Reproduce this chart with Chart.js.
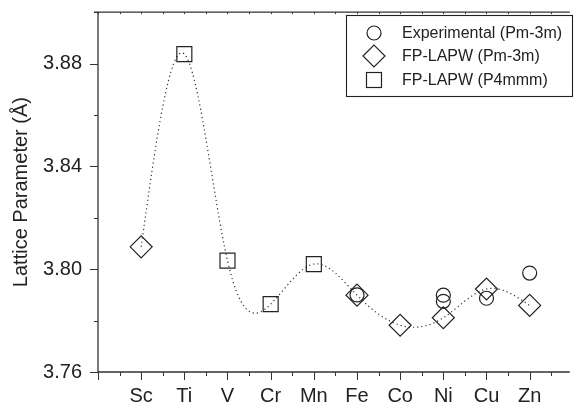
<!DOCTYPE html>
<html>
<head>
<meta charset="utf-8">
<script src="https://cdn.jsdelivr.net/npm/chart.js@4/dist/chart.umd.min.js"></script>
<style>
  html, body { margin: 0; padding: 0; background: #fff; }
  #wrap { width: 582px; height: 407px; position: relative; }
</style>
</head>
<body>
<div id="wrap"><canvas id="c" width="582" height="407"></canvas></div>
<script>
// ---- data ----
const categories = ['Sc', 'Ti', 'V', 'Cr', 'Mn', 'Fe', 'Co', 'Ni', 'Cu', 'Zn'];
const yTickValues = [3.76, 3.80, 3.84, 3.88];
const yMinorValues = [3.78, 3.82, 3.86, 3.90];

const expElements = ['Fe', 'Ni', 'Ni', 'Cu', 'Zn'];
const expValues = [3.7900, 3.7899, 3.7875, 3.7887, 3.7985];

const pm3mElements = ['Sc', 'Fe', 'Co', 'Ni', 'Cu', 'Zn'];
const pm3mValues = [3.8087, 3.7899, 3.7782, 3.7811, 3.7923, 3.7859];

const p4mmmElements = ['Ti', 'V', 'Cr', 'Mn'];
const p4mmmValues = [3.8837, 3.8033, 3.7864, 3.8020];

const curveElements = ['Sc', 'Ti', 'V', 'Cr', 'Mn', 'Fe', 'Co', 'Ni', 'Cu', 'Zn'];
const curveValues = [3.8087, 3.8837, 3.8033, 3.7864, 3.8020, 3.7899, 3.7782, 3.7811, 3.7923, 3.7859];

const seriesLabels = ['Experimental (Pm-3m)', 'FP-LAPW (Pm-3m)', 'FP-LAPW (P4mmm)'];

// ---- helpers ----
const pos = el => categories.indexOf(el) + 1;
const toPoints = (els, vals) => els.map((e, i) => ({ x: pos(e), y: vals[i] }));
const INK = '#222';
const FONT = "'Liberation Sans', Arial, Helvetica, sans-serif";

// natural cubic spline control points (smooth connecting line, like the original's spline connector)
const splinePlugin = {
  id: 'naturalSpline',
  beforeDatasetDraw(chart, args) {
    const ds = chart.data.datasets[args.index];
    if (!ds.naturalSpline) return;
    const meta = args.meta;
    const pts = meta.data;
    const n = pts.length;
    if (n < 3) return;
    const xs = pts.map(p => p.x), ys = pts.map(p => p.y);
    const h = [];
    for (let i = 0; i < n - 1; i++) h[i] = xs[i + 1] - xs[i];
    const M = new Array(n).fill(0);
    const a = [], b = [], c = [], d = [];
    for (let i = 1; i < n - 1; i++) {
      a[i] = h[i - 1]; b[i] = 2 * (h[i - 1] + h[i]); c[i] = h[i];
      d[i] = 6 * ((ys[i + 1] - ys[i]) / h[i] - (ys[i] - ys[i - 1]) / h[i - 1]);
    }
    // Thomas algorithm
    const cp = [], dp = [];
    for (let i = 1; i < n - 1; i++) {
      const den = b[i] - (i > 1 ? a[i] * cp[i - 1] : 0);
      cp[i] = c[i] / den;
      dp[i] = (d[i] - (i > 1 ? a[i] * dp[i - 1] : 0)) / den;
    }
    for (let i = n - 2; i >= 1; i--) {
      M[i] = dp[i] - (i < n - 2 ? cp[i] * M[i + 1] : 0);
    }
    const s = [];
    for (let i = 0; i < n - 1; i++) s[i] = (ys[i + 1] - ys[i]) / h[i] - h[i] * (2 * M[i] + M[i + 1]) / 6;
    s[n - 1] = (ys[n - 1] - ys[n - 2]) / h[n - 2] + h[n - 2] * (M[n - 2] + 2 * M[n - 1]) / 6;
    for (let i = 0; i < n; i++) {
      const hl = i > 0 ? h[i - 1] : 0, hr = i < n - 1 ? h[i] : 0;
      const p = pts[i];
      p.cp1x = xs[i] - hl / 3; p.cp1y = ys[i] - s[i] * hl / 3;
      p.cp2x = xs[i] + hr / 3; p.cp2y = ys[i] + s[i] * hr / 3;
    }
    meta.dataset._pointsUpdated = true;
  }
};

// axes frame and tick marks
const axesPlugin = {
  id: 'axesFrame',
  afterDraw(chart) {
    const { ctx, chartArea: ca, scales: { x, y } } = chart;
    ctx.save();
    ctx.strokeStyle = '#333';
    ctx.lineWidth = 1.3;
    ctx.beginPath();
    // left axis
    ctx.moveTo(ca.left, ca.top); ctx.lineTo(ca.left, ca.bottom);
    // bottom axis
    ctx.moveTo(ca.left, ca.bottom); ctx.lineTo(ca.right, ca.bottom);
    // top axis
    ctx.moveTo(ca.left - 4, ca.top); ctx.lineTo(ca.right, ca.top);
    ctx.stroke();
    ctx.lineWidth = 1;
    ctx.beginPath();
    yTickValues.forEach(v => { const py = Math.round(y.getPixelForValue(v)) + 0.5; ctx.moveTo(ca.left - 8, py); ctx.lineTo(ca.left, py); });
    yMinorValues.forEach(v => { const py = Math.round(y.getPixelForValue(v)) + 0.5; ctx.moveTo(ca.left - 4, py); ctx.lineTo(ca.left, py); });
    for (let v = 0; v <= categories.length; v++) {
      const px = Math.round(x.getPixelForValue(v)) + 0.5;
      ctx.moveTo(px, ca.bottom); ctx.lineTo(px, ca.bottom + 8);
      ctx.moveTo(px, ca.top); ctx.lineTo(px, ca.top + 2);
      const pm = Math.round(x.getPixelForValue(v + 0.5)) + 0.5;
      if (pm < ca.right) {
        ctx.moveTo(pm, ca.bottom); ctx.lineTo(pm, ca.bottom + 4);
        ctx.moveTo(pm, ca.top); ctx.lineTo(pm, ca.top + 2);
      }
    }
    ctx.stroke();

    // legend box
    const lx = 346.5, ly = 15.5, lw = 226, lh = 81;
    ctx.lineWidth = 1.1;
    ctx.strokeStyle = INK;
    ctx.strokeRect(lx, ly, lw, lh);
    const rows = [33, 56, 80];
    const mx = 374;
    ctx.lineWidth = 1.2;
    // circle
    ctx.beginPath(); ctx.arc(mx, rows[0], 7, 0, Math.PI * 2); ctx.stroke();
    // diamond
    ctx.beginPath();
    ctx.moveTo(mx - 11, rows[1]); ctx.lineTo(mx, rows[1] - 11); ctx.lineTo(mx + 11, rows[1]); ctx.lineTo(mx, rows[1] + 11); ctx.closePath(); ctx.stroke();
    // square
    ctx.strokeRect(mx - 7.5, rows[2] - 7.5, 15, 15);
    ctx.fillStyle = INK;
    ctx.font = '16px ' + FONT;
    ctx.textBaseline = 'middle';
    ctx.textAlign = 'left';
    seriesLabels.forEach((t, i) => ctx.fillText(t, 402, rows[i] + 1));
    ctx.restore();
  }
};

const markerCommon = { showLine: false, backgroundColor: 'rgba(0,0,0,0)', borderColor: INK, pointBorderWidth: 1.2 };

new Chart(document.getElementById('c'), {
  type: 'line',
  data: {
    datasets: [
      Object.assign({ label: seriesLabels[0], data: toPoints(expElements, expValues), pointStyle: 'circle', pointRadius: 7 }, markerCommon),
      Object.assign({ label: seriesLabels[1], data: toPoints(pm3mElements, pm3mValues), pointStyle: 'rectRot', pointRadius: 11 }, markerCommon),
      Object.assign({ label: seriesLabels[2], data: toPoints(p4mmmElements, p4mmmValues), pointStyle: 'rect', pointRadius: 10.6 }, markerCommon),
      {
        label: 'spline', data: toPoints(curveElements, curveValues), naturalSpline: true,
        showLine: true, tension: 0.4, pointRadius: 0, borderColor: '#333', borderWidth: 1.2,
        borderDash: [1.2, 3], fill: false
      }
    ]
  },
  options: {
    responsive: false,
    animation: false,
    events: [],
    layout: { padding: { top: 10, left: 0, right: 0, bottom: 0 } },
    plugins: { legend: { display: false }, tooltip: { enabled: false } },
    scales: {
      x: {
        type: 'linear', min: 0, max: 10.93,
        grid: { display: false, drawTicks: false }, border: { display: false },
        afterBuildTicks(s) { s.ticks = categories.map((c, i) => ({ value: i + 1 })); },
        afterFit(s) { s.height = 35; s.paddingLeft = 0; s.paddingRight = 0; },
        ticks: {
          padding: 12, maxRotation: 0, autoSkip: false, color: INK,
          font: { family: FONT, size: 20 },
          callback: v => categories[Math.round(v) - 1]
        }
      },
      y: {
        type: 'linear', min: 3.76, max: 3.90,
        grid: { display: false, drawTicks: false }, border: { display: false },
        afterBuildTicks(s) { s.ticks = yTickValues.map(v => ({ value: v })); },
        afterFit(s) { s.width = 98; s.paddingTop = 0; s.paddingBottom = 0; },
        ticks: {
          padding: 16, color: INK,
          font: { family: FONT, size: 20 },
          callback: v => Number(v).toFixed(2)
        },
        title: {
          display: true, text: 'Lattice Parameter (Å)', color: INK,
          font: { family: FONT, size: 20 }, padding: { top: 9, bottom: 0 }
        }
      }
    }
  },
  plugins: [splinePlugin, axesPlugin]
});
</script>
</body>
</html>
